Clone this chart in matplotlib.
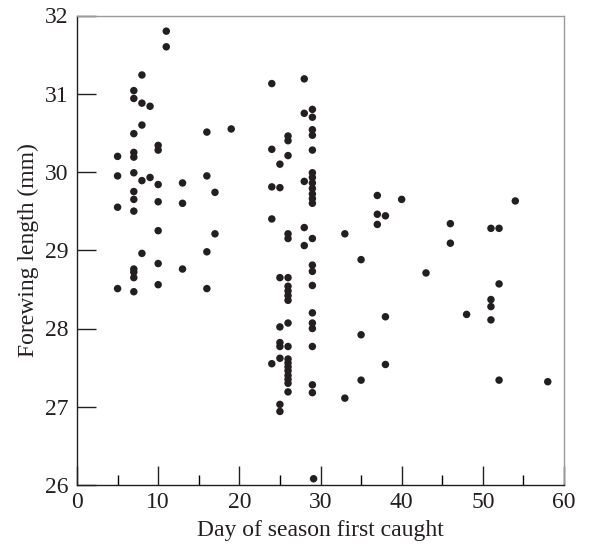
import matplotlib
matplotlib.use("Agg")
import matplotlib.pyplot as plt
from matplotlib.ticker import MultipleLocator

# Data: forewing length (mm) grouped by day first caught
day_5 = [30.20, 29.95, 29.55, 28.51]
day_7 = [31.04, 30.94, 30.49, 30.25, 30.19, 29.99, 29.75, 29.65, 29.50, 28.76, 28.72, 28.65, 28.47]
day_8 = [31.24, 30.88, 30.60, 29.89, 28.96]
day_9 = [30.84, 29.93]
day_10 = [30.34, 30.28, 29.84, 29.62, 29.25, 28.83, 28.56]
day_11 = [31.80, 31.60]
day_13 = [29.86, 29.60, 28.76]
day_16 = [30.51, 29.95, 28.98, 28.51]
day_17 = [29.74, 29.21]
day_19 = [30.55]
day_24 = [31.13, 30.29, 29.81, 29.40, 27.55]
day_25 = [30.10, 29.80, 28.65, 28.02, 27.82, 27.77, 27.62, 27.03, 26.94]
day_26 = [30.46, 30.40, 30.21, 29.21, 29.15, 28.65, 28.54, 28.48, 28.42, 28.36,
          28.07, 27.77, 27.61, 27.56, 27.51, 27.46, 27.40, 27.35, 27.30, 27.19]
day_28 = [31.19, 30.75, 29.88, 29.29, 29.06]
day_29 = [30.80, 30.70, 30.54, 30.47, 30.28, 29.99, 29.93, 29.86, 29.79, 29.72,
          29.66, 29.60, 29.15, 28.81, 28.73, 28.55, 28.20, 28.07, 28.00, 27.77,
          27.28, 27.18]
day_29b = [26.08]
day_33 = [29.21, 27.11]
day_35 = [28.88, 27.92, 27.34]
day_37 = [29.70, 29.46, 29.33]
day_38 = [29.44, 28.15, 27.54]
day_40 = [29.65]
day_43 = [28.71]
day_46 = [29.34, 29.09]
day_48 = [28.18]
day_51 = [29.28, 28.37, 28.28, 28.11]
day_52 = [29.28, 28.57, 27.34]
day_54 = [29.63]
day_58 = [27.32]

columns = [
    (5, day_5), (7, day_7), (8, day_8), (9, day_9), (10, day_10), (11, day_11),
    (13, day_13), (16, day_16), (17, day_17), (19, day_19), (24, day_24),
    (25, day_25), (26, day_26), (28, day_28), (29, day_29), (29.15, day_29b),
    (33, day_33), (35, day_35), (37, day_37), (38, day_38), (40, day_40),
    (43, day_43), (46, day_46), (48, day_48), (51, day_51), (52, day_52),
    (54, day_54), (58, day_58),
]

xs, ys = [], []
for d, vals in columns:
    for v in vals:
        xs.append(d)
        ys.append(v)

plt.rcParams['font.family'] = ['Liberation Serif', 'DejaVu Serif']

fig = plt.figure(figsize=(6.06, 5.47), dpi=100)
ax = fig.add_axes([77/606, 1-485/547, (564-77)/606, (485-15.5)/547])

ax.scatter(xs, ys, s=29, color='#231f20', edgecolors='none', zorder=3)

ax.set_xlim(0, 60)
ax.set_ylim(26, 32)
ax.xaxis.set_major_locator(MultipleLocator(10))
ax.xaxis.set_minor_locator(MultipleLocator(5))
ax.yaxis.set_major_locator(MultipleLocator(1))

ax.tick_params(axis='both', which='major', direction='in', length=14, width=1,
               labelsize=17, colors='#231f20')
ax.tick_params(axis='x', which='major', pad=5)
ax.tick_params(axis='y', which='major', pad=6)
ax.tick_params(axis='x', which='minor', direction='in', length=7, width=1)
ax.tick_params(top=False, right=False)

for side in ['left', 'bottom']:
    ax.spines[side].set_color('#231f20')
    ax.spines[side].set_linewidth(1.0)
for side in ['top', 'right']:
    ax.spines[side].set_color('#9a9a9a')
    ax.spines[side].set_linewidth(1.0)

ax.set_xlabel('Day of season first caught', fontsize=17, color='#231f20', labelpad=5)
ax.set_ylabel('Forewing length (mm)', fontsize=17, color='#231f20', labelpad=4)

fig.savefig('out.png', dpi=100)
